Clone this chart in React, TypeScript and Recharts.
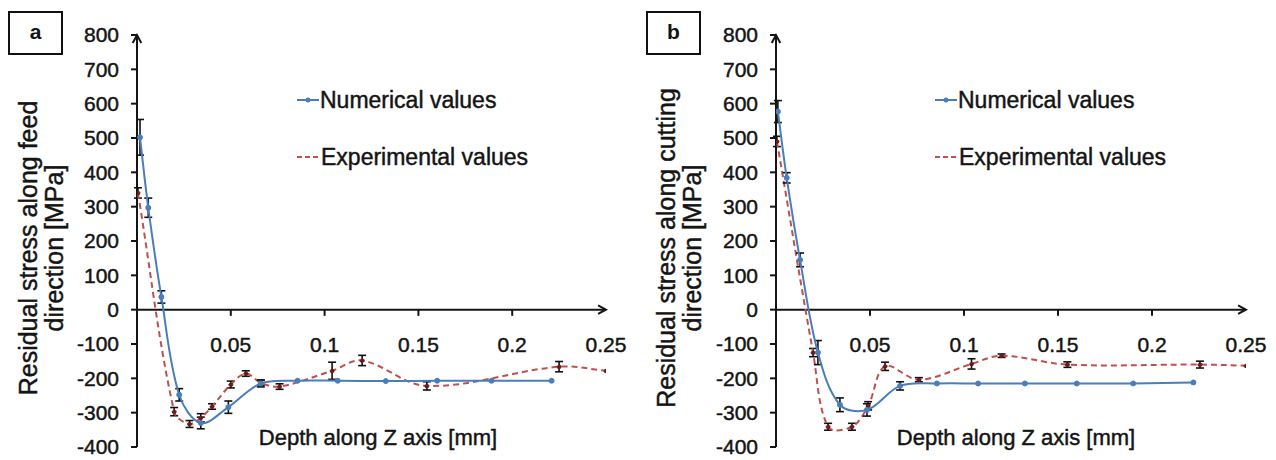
import React from 'react';
import { LineChart, Line, XAxis, YAxis, ErrorBar, ReferenceLine } from 'recharts';

// axis ticks
const yTicks = [800, 700, 600, 500, 400, 300, 200, 100, 0, -100, -200, -300, -400];
const xTickValues = [0.05, 0.1, 0.15, 0.2, 0.25];
const xTickLabels = ['0.05', '0.1', '0.15', '0.2', '0.25'];

// panel a - feed direction
const numDepthA = [0.0016, 0.006, 0.013, 0.0225, 0.034, 0.0487, 0.066, 0.0856, 0.107, 0.1326, 0.16, 0.189, 0.221];
const numStressA = [502, 297, 37, -248, -330, -284, -215, -207, -207, -208, -207, -207, -207];
const numErrA = [52, 28, 18, 18, 17, 18, 10, null, null, null, null, null, null];

const expDepthA = [0.0005, 0.0198, 0.028, 0.034, 0.04, 0.05, 0.058, 0.066, 0.076, 0.104, 0.12, 0.1545, 0.225, 0.25];
const expStressA = [340, -297, -333, -315, -282, -218, -186, -213, -224, -178, -148, -222, -166, -178];
const expErrA = [15, 12, 10, 12, 8, 10, 8, 8, 8, 25, 15, 12, 15, null];

// panel b - cutting direction
const numDepthB = [0.001, 0.0057, 0.0128, 0.0223, 0.034, 0.0484, 0.066, 0.0856, 0.1075, 0.1324, 0.16, 0.19, 0.222];
const numStressB = [577, 384, 145, -125, -277, -292, -222, -215, -215, -215, -215, -215, -212];
const numErrB = [32, 15, 20, 35, 20, 18, 12, null, null, null, null, null, null];

const expDepthB = [0.0005, 0.0197, 0.0277, 0.0404, 0.049, 0.058, 0.076, 0.104, 0.12, 0.155, 0.2255, 0.25];
const expStressB = [490, -125, -341, -341, -280, -165, -204, -158, -134, -160, -160, -163];
const expErrB = [15, 12, 10, 10, 12, 12, 6, 15, 5, 8, 10, null];

const BLUE = '#4a7ebb';
const RED = '#c0504d';
const INK = '#141414';
const FONT = '"Liberation Sans", Arial, sans-serif';
const THICK = 0.45; // text looks a bit heavier in the source

const toRows = (d: number[], s: number[], e: (number | null)[]) =>
  d.map((x, i) => ({ depth: x, stress: s[i], err: e[i] }));

// smoothed line like Excel: tangent from neighbours, scaled by segment length
const smooth = (context: any) => {
  let pts: number[][] = [];
  const t = 0.35;
  const dist = (a: number[], b: number[]) => Math.hypot(b[0] - a[0], b[1] - a[1]);
  return {
    areaStart() {},
    areaEnd() {},
    lineStart() {
      pts = [];
    },
    point(x: number, y: number) {
      pts.push([+x, +y]);
    },
    lineEnd() {
      const n = pts.length;
      if (!n) return;
      // control points per point: [before, after]
      const cps = pts.map((p, i) => {
        const prev = pts[i - 1] || p;
        const next = pts[i + 1] || p;
        const d01 = dist(prev, p);
        const d12 = dist(p, next);
        const sum = d01 + d12 || 1;
        const fa = (t * d01) / sum;
        const fb = (t * d12) / sum;
        return [
          [p[0] - fa * (next[0] - prev[0]), p[1] - fa * (next[1] - prev[1])],
          [p[0] + fb * (next[0] - prev[0]), p[1] + fb * (next[1] - prev[1])],
        ];
      });
      context.moveTo(pts[0][0], pts[0][1]);
      for (let i = 0; i < n - 1; i++) {
        const c1 = cps[i][1];
        const c2 = cps[i + 1][0];
        context.bezierCurveTo(c1[0], c1[1], c2[0], c2[1], pts[i + 1][0], pts[i + 1][1]);
      }
    },
  };
};

const ArrowLine = (props: any) => {
  const { x1, y1, x2, y2 } = props;
  const ang = Math.atan2(y2 - y1, x2 - x1);
  const L = 9;
  const w = 0.5;
  const ax = x2 - L * Math.cos(ang - w);
  const ay = y2 - L * Math.sin(ang - w);
  const bx = x2 - L * Math.cos(ang + w);
  const by = y2 - L * Math.sin(ang + w);
  return (
    <g>
      <line x1={x1} y1={y1} x2={x2} y2={y2} stroke={INK} strokeWidth={2} />
      <polyline points={`${ax},${ay} ${x2},${y2} ${bx},${by}`} fill="none" stroke={INK} strokeWidth={2} />
    </g>
  );
};

interface PanelProps {
  letter: string;
  yLabel: [string, string];
  num: { depth: number; stress: number; err: number | null }[];
  exp: { depth: number; stress: number; err: number | null }[];
  left: number;
  width: number;
  marginLeft: number;
  marginRight: number;
}

const txt = { fontFamily: FONT, fill: INK, stroke: INK, strokeWidth: THICK };

function Panel({ letter, yLabel, num, exp, left, width, marginLeft, marginRight }: PanelProps) {
  return (
    <div style={{ position: 'absolute', left, top: 0, width, height: 460 }}>
      <div
        style={{
          position: 'absolute',
          left: 8,
          top: 11,
          width: 51,
          height: 40,
          border: '2px solid #111',
          fontFamily: FONT,
          fontWeight: 700,
          fontSize: 21,
          lineHeight: '38px',
          textAlign: 'center',
          color: INK,
          background: '#fff',
        }}
      >
        {letter}
      </div>
      <LineChart
        width={width}
        height={460}
        margin={{ top: 35, right: marginRight, bottom: 13, left: marginLeft }}
        style={{ fontFamily: FONT }}
      >
        <XAxis type="number" dataKey="depth" domain={[0, 0.25]} hide allowDataOverflow />
        <YAxis
          type="number"
          dataKey="stress"
          domain={[-400, 800]}
          ticks={yTicks}
          width={70}
          axisLine={false}
          tickSize={6}
          tickMargin={12}
          stroke={INK}
          tickLine={{ stroke: INK, strokeWidth: 2 }}
          tick={{ ...txt, fontSize: 21 }}
          interval={0}
          allowDataOverflow
        />
        <ReferenceLine
          segment={[{ x: 0, y: -400 }, { x: 0, y: 800 }]}
          shape={ArrowLine}
          ifOverflow="visible"
        />
        <ReferenceLine
          segment={[{ x: 0, y: 0 }, { x: 0.25, y: 0 }]}
          shape={ArrowLine}
          ifOverflow="visible"
        />
        {xTickValues.map((v, i) => (
          <ReferenceLine
            key={v}
            segment={[{ x: v, y: 0 }, { x: v, y: -18 }]}
            stroke={INK}
            strokeWidth={2}
            strokeOpacity={v === 0.25 ? 0 : 1}
            ifOverflow="visible"
            label={{
              value: xTickLabels[i],
              position: 'bottom',
              offset: 21,
              fontSize: 21,
              ...txt,
            }}
          />
        ))}
        <Line
          data={exp}
          dataKey="stress"
          type={smooth as any}
          stroke={RED}
          strokeWidth={2}
          strokeDasharray="6 4"
          dot={{ r: 2, fill: '#6e1a1a', stroke: '#6e1a1a', strokeWidth: 1 }}
          isAnimationActive={false}
          name="Experimental values"
        >
          <ErrorBar dataKey="err" direction="y" width={4} stroke="#111" strokeWidth={1.6} />
        </Line>
        <Line
          data={num}
          dataKey="stress"
          type={smooth as any}
          stroke={BLUE}
          strokeWidth={2}
          dot={{ r: 2.5, fill: BLUE, stroke: BLUE, strokeWidth: 1 }}
          isAnimationActive={false}
          name="Numerical values"
        >
          <ErrorBar dataKey="err" direction="y" width={4} stroke="#111" strokeWidth={1.6} />
        </Line>

        <text transform="translate(28,248) rotate(-90)" textAnchor="middle" dy="0.35em" fontSize={25} {...txt}>
          {yLabel[0]}
        </text>
        <text transform="translate(54,248) rotate(-90)" textAnchor="middle" dy="0.35em" fontSize={25} {...txt}>
          {yLabel[1]}
        </text>
        <text x={378} y={437} dy="0.35em" textAnchor="middle" fontSize={22} {...txt}>
          Depth along Z axis [mm]
        </text>

        <g>
          <line x1={297} y1={100} x2={319} y2={100} stroke={BLUE} strokeWidth={2} />
          <circle cx={308} cy={100} r={2.5} fill={BLUE} />
          <text x={320} y={100} dy="0.35em" fontSize={23} {...txt}>
            Numerical values
          </text>
          <line x1={297} y1={157} x2={319} y2={157} stroke={RED} strokeWidth={2} strokeDasharray="5 3" />
          <text x={321} y={157} dy="0.35em" fontSize={23} {...txt}>
            Experimental values
          </text>
        </g>
      </LineChart>
    </div>
  );
}

export default function App() {
  return (
    <div style={{ position: 'absolute', left: 0, top: 0, width: 1276, height: 460, background: '#fff' }}>
      <Panel
        letter="a"
        yLabel={['Residual stress along feed', 'direction [MPa]']}
        num={toRows(numDepthA, numStressA, numErrA)}
        exp={toRows(expDepthA, expStressA, expErrA)}
        left={0}
        width={640}
        marginLeft={67}
        marginRight={34}
      />
      <Panel
        letter="b"
        yLabel={['Residual stress along cutting', 'direction [MPa]']}
        num={toRows(numDepthB, numStressB, numErrB)}
        exp={toRows(expDepthB, expStressB, expErrB)}
        left={638}
        width={638}
        marginLeft={68}
        marginRight={30}
      />
    </div>
  );
}
